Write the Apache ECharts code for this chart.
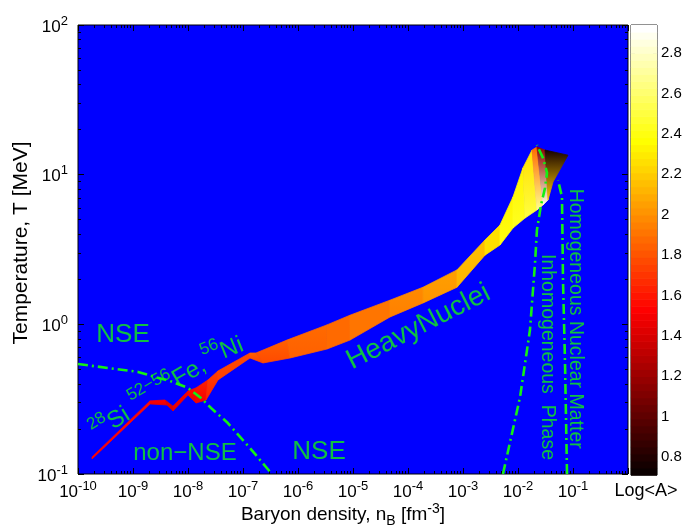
<!DOCTYPE html>
<html><head><meta charset="utf-8">
<script src="https://cdn.jsdelivr.net/npm/echarts@6/dist/echarts.min.js"></script>
<style>html,body{margin:0;padding:0;background:#fff}#c{width:690px;height:529px}</style>
</head><body><div id="c"></div>
<script>
// ---------- DATA ----------
// Heavy-nuclei band: upper and lower edges (baryon density n_B [fm^-3], temperature T [MeV])
const upperN = [1.80e-10, 2.04e-9, 3.82e-9, 5.33e-9, 1.0e-8, 1.40e-8, 2.31e-8, 3.51e-8, 1.34e-7, 1.72e-7, 6.31e-7, 3.36e-6, 8.81e-6, 4.71e-5, 1.88e-4, 7.78e-4, 2.51e-3, 4.71e-3, 8.11e-3, 1.23e-2, 1.80e-2, 2.21e-2, 3.10e-2, 8.11e-2];
const upperT = [0.130, 0.308, 0.312, 0.284, 0.359, 0.376, 0.425, 0.488, 0.643, 0.643, 0.785, 0.991, 1.15, 1.45, 1.77, 2.31, 3.66, 4.61, 7.10, 11.1, 14.6, 15.3, 14.6, 13.5];
const lowerN = [1.80e-10, 2.04e-9, 4.15e-9, 5.33e-9, 1.0e-8, 1.40e-8, 2.12e-8, 3.51e-8, 1.34e-7, 2.31e-7, 7.16e-7, 3.36e-6, 8.81e-6, 4.71e-5, 1.88e-4, 7.78e-4, 2.51e-3, 4.71e-3, 8.11e-3, 1.34e-2, 2.21e-2, 2.85e-2, 3.51e-2, 4.33e-2];
const lowerT = [0.126, 0.294, 0.289, 0.264, 0.337, 0.298, 0.312, 0.425, 0.596, 0.552, 0.596, 0.684, 0.785, 1.12, 1.39, 1.77, 2.90, 3.39, 4.40, 5.13, 5.81, 6.27, 6.78, 8.93];
// log10 <A> on the upper and lower side of the band
const logAUpper = [1.55, 1.55, 1.50, 1.45, 1.55, 1.60, 1.70, 1.75, 1.80, 1.85, 1.85, 1.88, 1.90, 1.95, 2.00, 2.08, 2.20, 2.30, 2.35, 2.30, 2.25, 1.50, 0.80, 0.72];
const logALower = [1.55, 1.50, 1.40, 1.40, 1.50, 1.45, 1.55, 1.70, 1.75, 1.75, 1.80, 1.85, 1.88, 1.92, 1.98, 2.05, 2.20, 2.35, 2.42, 2.48, 2.55, 2.80, 2.90, 1.50];

// Boundary lines
const nseLineN = [1e-10, 1.23e-9, 2.51e-9, 4.71e-9, 1.0e-8, 1.72e-8, 2.62e-8, 5.12e-8, 1.34e-7, 3.36e-7];
const nseLineT = [0.543, 0.481, 0.445, 0.418, 0.376, 0.322, 0.276, 0.222, 0.149, 0.100];
const inhomLineN = [5.33e-3, 1.09e-2, 1.65e-2, 2.04e-2, 2.21e-2, 2.62e-2, 3.10e-2, 3.37e-2, 2.85e-2, 2.21e-2];
const inhomLineT = [0.100, 0.327, 0.916, 2.57, 4.27, 6.27, 8.15, 10.3, 12.9, 15.8];
const homLineN = [7.78e-2, 7.16e-2, 6.58e-2, 6.31e-2, 5.33e-2];
const homLineT = [0.100, 0.552, 1.98, 7.10, 9.20];

// Tick labels (exponents of 10) and colour-bar ticks
const xTickExp = [-10, -9, -8, -7, -6, -5, -4, -3, -2, -1];
const yTickExp = [-1, 0, 1, 2];
const cbTicks = [0.8, 1.0, 1.2, 1.4, 1.6, 1.8, 2.0, 2.2, 2.4, 2.6, 2.8];
const cbMin = 0.71, cbMax = 2.94;

// Annotations
const annotText = ['NSE', 'non\u2212NSE', 'NSE', 'HeavyNuclei', 'Si', 'Fe,', 'Ni', 'Inhomogeneous  Phase', 'Homogeneous Nuclear Matter'];
const annotSup  = ['', '', '', '', '28', '52\u221256', '56', '', ''];
const annotN = [6.58e-10, 8.81e-9, 2.41e-6, 1.46e-4, 3.66e-10, 4.15e-9, 4.15e-8, 3.82e-2, 1.23e-1];
const annotT = [0.889, 0.143, 0.147, 1.0, 0.226, 0.412, 0.684, 0.605, 1.09];

// ---------- STYLE ----------
const annotStyle = [
  {size: 26, rot: 0}, {size: 24, rot: 0}, {size: 26, rot: 0}, {size: 28, rot: 27},
  {size: 24, rot: 32}, {size: 24, rot: 30}, {size: 24, rot: 22},
  {size: 19.5, rot: -90}, {size: 19.5, rot: -90}
];
const FONT = "'Liberation Sans', Arial, Helvetica, sans-serif";
const GREEN = '#14f014';
const BLUE = '#0000ff';
const lg = Math.log10;

function hot(v) {
  let f = (v - cbMin) / (cbMax - cbMin);
  f = Math.max(0, Math.min(1, f));
  const i = Math.min(63, Math.floor(f * 64));
  const r = i < 24 ? (i + 1) / 24 : 1;
  const g = i < 24 ? 0 : (i < 48 ? (i - 23) / 24 : 1);
  const b = i < 48 ? 0 : (i - 47) / 16;
  return 'rgb(' + Math.round(r * 255) + ',' + Math.round(g * 255) + ',' + Math.round(b * 255) + ')';
}

const minorX = [], minorY = [];
for (let n = -10; n < 0; n++) for (let k = 2; k <= 9; k++) minorX.push(n + lg(k));
for (let n = -1; n < 2; n++) for (let k = 2; k <= 9; k++) minorY.push(n + lg(k));

const tickRich = {
  b: {fontSize: 17, fontFamily: FONT, color: '#000', lineHeight: 21, verticalAlign: 'bottom'},
  s: {fontSize: 13, fontFamily: FONT, color: '#000', verticalAlign: 'top'}
};
const expFmt = v => '{b|10}{s|' + Math.round(v) + '}';

const chart = echarts.init(document.getElementById('c'), null, {renderer: 'canvas'});

const bandData = [];
for (let i = 0; i < upperN.length - 1; i++) bandData.push([lg(upperN[i]), lg(upperT[i]), i]);
const cbData = [];
for (let i = 0; i < 64; i++) cbData.push([0.5, cbMin + (i + 0.5) * (cbMax - cbMin) / 64, i]);

const annotData = annotText.map((t, i) => ({
  value: [lg(annotN[i]), lg(annotT[i])],
  label: {
    show: true, position: 'inside', rotate: annotStyle[i].rot,
    formatter: annotSup[i] ? '{s|' + annotSup[i] + '}{b|' + t + '}' : '{b|' + t + '}',
    rich: {
      b: {fontSize: annotStyle[i].size, fontFamily: FONT, color: GREEN, lineHeight: annotStyle[i].size + 6, verticalAlign: 'bottom'},
      s: {fontSize: Math.round(annotStyle[i].size * 0.7), fontFamily: FONT, color: GREEN, verticalAlign: 'top'}
    }
  }
}));

const lineStyle = {color: GREEN, width: 2.6, type: [10, 4, 2, 4]};

const noLine = {show: false, onZero: false};
const baseX = {gridIndex: 0, type: 'value', min: -10, max: 0, splitLine: {show: false}, axisLine: noLine};
const baseY = {gridIndex: 0, type: 'value', min: -1, max: 2, splitLine: {show: false}, axisLine: noLine};

chart.setOption({
  animation: false,
  backgroundColor: '#fff',
  grid: [
    {left: 78, top: 25, width: 550, height: 449, show: true, backgroundColor: BLUE, borderColor: '#000', borderWidth: 1},
    {left: 631, top: 25, width: 26, height: 450, show: true, backgroundColor: '#fff', borderColor: '#000', borderWidth: 1}
  ],
  xAxis: [
    Object.assign({}, baseX, {position: 'bottom', interval: 1,
      axisTick: {show: true, inside: true, length: 6, lineStyle: {color: '#000'}},
      axisLabel: {show: true, margin: 6, formatter: v => (v === 0 ? '' : expFmt(v)), rich: tickRich}}),
    Object.assign({}, baseX, {position: 'bottom',
      axisTick: {show: true, inside: true, length: 3, customValues: minorX, lineStyle: {color: '#000'}},
      axisLabel: {show: false}}),
    Object.assign({}, baseX, {position: 'top', interval: 1,
      axisTick: {show: true, inside: true, length: 6, lineStyle: {color: '#000'}},
      axisLabel: {show: false}}),
    Object.assign({}, baseX, {position: 'top',
      axisTick: {show: true, inside: true, length: 3, customValues: minorX, lineStyle: {color: '#000'}},
      axisLabel: {show: false}}),
    {gridIndex: 1, type: 'value', min: 0, max: 1, show: false}
  ],
  yAxis: [
    Object.assign({}, baseY, {position: 'left', interval: 1,
      axisTick: {show: true, inside: true, length: 6, lineStyle: {color: '#000'}},
      axisLabel: {show: true, margin: 10, formatter: expFmt, rich: tickRich}}),
    Object.assign({}, baseY, {position: 'left',
      axisTick: {show: true, inside: true, length: 3, customValues: minorY, lineStyle: {color: '#000'}},
      axisLabel: {show: false}}),
    Object.assign({}, baseY, {position: 'right', interval: 1,
      axisTick: {show: true, inside: true, length: 6, lineStyle: {color: '#000'}},
      axisLabel: {show: false}}),
    Object.assign({}, baseY, {position: 'right',
      axisTick: {show: true, inside: true, length: 3, customValues: minorY, lineStyle: {color: '#000'}},
      axisLabel: {show: false}}),
    {gridIndex: 1, type: 'value', min: cbMin, max: cbMax, position: 'right', splitLine: {show: false},
      axisLine: noLine,
      axisTick: {show: true, inside: true, length: 4, customValues: cbTicks, lineStyle: {color: '#000'}},
      axisLabel: {show: true, margin: 4, customValues: cbTicks, fontSize: 15, fontFamily: FONT, color: '#000',
        formatter: v => String(Math.round(v * 10) / 10)}},
    {gridIndex: 1, type: 'value', min: cbMin, max: cbMax, position: 'left', splitLine: {show: false},
      axisLine: noLine,
      axisTick: {show: true, inside: true, length: 4, customValues: cbTicks, lineStyle: {color: '#000'}},
      axisLabel: {show: false}}
  ],
  series: [
    {
      type: 'custom', name: 'Heavy nuclei', xAxisIndex: 0, yAxisIndex: 0, clip: true,
      data: bandData, z: 2,
      renderItem: function (params, api) {
        const i = api.value(2);
        const pts = [
          api.coord([lg(upperN[i]), lg(upperT[i])]),
          api.coord([lg(upperN[i + 1]), lg(upperT[i + 1])]),
          api.coord([lg(lowerN[i + 1]), lg(lowerT[i + 1])]),
          api.coord([lg(lowerN[i]), lg(lowerT[i])])
        ];
        const cu = hot((logAUpper[i] + logAUpper[i + 1]) / 2);
        const cl = hot((logALower[i] + logALower[i + 1]) / 2);
        const grad = {type: 'linear', x: 0, y: 0, x2: 0, y2: 1, colorStops: [{offset: 0, color: cu}, {offset: 1, color: cl}]};
        return {type: 'polygon', shape: {points: pts}, style: {fill: grad, stroke: grad, lineWidth: 0.8}};
      }
    },
    {type: 'line', name: 'NSE boundary', xAxisIndex: 0, yAxisIndex: 0, symbol: 'none', z: 3,
      data: nseLineN.map((n, i) => [lg(n), lg(nseLineT[i])]), lineStyle: lineStyle},
    {type: 'line', name: 'Inhomogeneous boundary', xAxisIndex: 0, yAxisIndex: 0, symbol: 'none', z: 3,
      data: inhomLineN.map((n, i) => [lg(n), lg(inhomLineT[i])]), lineStyle: lineStyle},
    {type: 'line', name: 'Homogeneous boundary', xAxisIndex: 0, yAxisIndex: 0, symbol: 'none', z: 3,
      data: homLineN.map((n, i) => [lg(n), lg(homLineT[i])]), lineStyle: lineStyle},
    {type: 'scatter', name: 'labels', xAxisIndex: 0, yAxisIndex: 0, symbolSize: 1, z: 4,
      itemStyle: {color: 'rgba(0,0,0,0)'}, data: annotData, silent: true},
    {
      type: 'custom', name: 'colorbar', xAxisIndex: 4, yAxisIndex: 4, data: cbData,
      renderItem: function (params, api) {
        const i = api.value(2);
        const lo = cbMin + i * (cbMax - cbMin) / 64, hi = cbMin + (i + 1) * (cbMax - cbMin) / 64;
        const p0 = api.coord([0, hi]), p1 = api.coord([1, lo]);
        const c = hot((lo + hi) / 2);
        return {type: 'rect', shape: {x: p0[0], y: p0[1], width: p1[0] - p0[0], height: p1[1] - p0[1] + 0.5},
          style: {fill: c, stroke: c, lineWidth: 0.3}};
      }
    }
  ],
  graphic: [
    {type: 'text', x: 343, y: 515, style: {
      text: 'Baryon density, n{sub|B} [fm{sup|-3}]', align: 'center', verticalAlign: 'middle',
      rich: {
        sub: {fontSize: 14, fontFamily: FONT, fill: '#000', verticalAlign: 'bottom'},
        sup: {fontSize: 14, fontFamily: FONT, fill: '#000', verticalAlign: 'top'}
      },
      font: '19px ' + FONT, fill: '#000', lineHeight: 26}},
    {type: 'text', x: 21, y: 243, rotation: Math.PI / 2, style: {
      text: 'Temperature, T [MeV]', align: 'center', verticalAlign: 'middle',
      font: '21px ' + FONT, fill: '#000'}},
    {type: 'text', x: 646, y: 491, style: {
      text: 'Log<A>', align: 'center', verticalAlign: 'middle',
      font: '18px ' + FONT, fill: '#000'}}
  ]
});
</script>
</body></html>
